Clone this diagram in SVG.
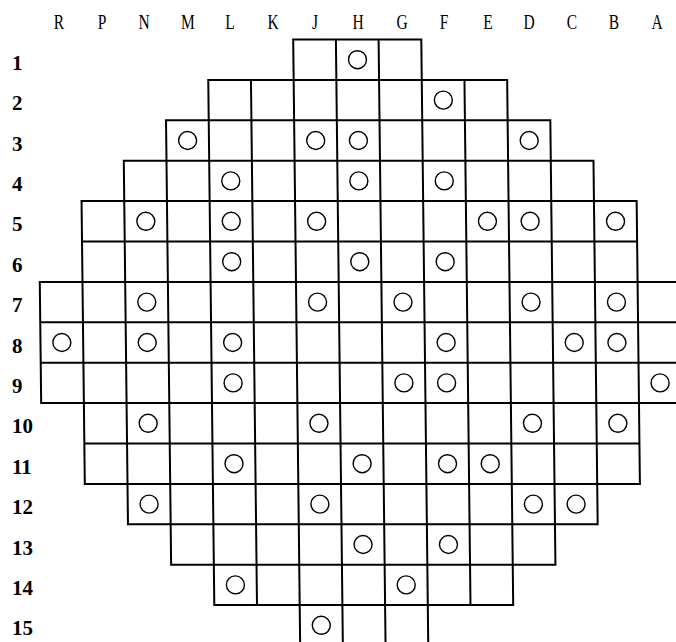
<svg xmlns="http://www.w3.org/2000/svg" width="676" height="642" viewBox="0 0 676 642">
<style>
.grid{fill:none;stroke:#000;stroke-width:2;stroke-linecap:square}
.rod{fill:none;stroke:#000;stroke-width:1.4}
.col{font-family:"Liberation Serif","Times New Roman",serif;font-size:21px;fill:#000;text-anchor:middle}
.row{font-family:"Liberation Serif","Times New Roman",serif;font-size:21px;font-weight:bold;fill:#000}
</style>
<rect width="676" height="642" fill="#fff"/>
<g id="column-labels" class="col">
<text transform="translate(59,29) scale(0.74,1)">R</text>
<text transform="translate(102,29) scale(0.74,1)">P</text>
<text transform="translate(144,29) scale(0.74,1)">N</text>
<text transform="translate(188,29) scale(0.74,1)">M</text>
<text transform="translate(230,29) scale(0.74,1)">L</text>
<text transform="translate(273,29) scale(0.74,1)">K</text>
<text transform="translate(315,29) scale(0.74,1)">J</text>
<text transform="translate(358,29) scale(0.74,1)">H</text>
<text transform="translate(402,29) scale(0.74,1)">G</text>
<text transform="translate(444,29) scale(0.74,1)">F</text>
<text transform="translate(488,29) scale(0.74,1)">E</text>
<text transform="translate(529,29) scale(0.74,1)">D</text>
<text transform="translate(572,29) scale(0.74,1)">C</text>
<text transform="translate(614,29) scale(0.74,1)">B</text>
<text transform="translate(657,29) scale(0.74,1)">A</text>
</g>
<g id="row-labels" class="row">
<text x="12" y="69.7">1</text>
<text x="12" y="110.1">2</text>
<text x="12" y="150.5">3</text>
<text x="12" y="190.9">4</text>
<text x="12" y="231.3">5</text>
<text x="12" y="271.7">6</text>
<text x="12" y="312.1">7</text>
<text x="12" y="352.5">8</text>
<text x="12" y="392.9">9</text>
<text x="12" y="433.3">10</text>
<text x="12" y="473.7">11</text>
<text x="12" y="514.1">12</text>
<text x="12" y="554.5">13</text>
<text x="12" y="594.9">14</text>
<text x="12" y="635.3">15</text>
</g>
<g id="core" transform="matrix(1,0,0.0115,1,-0.46,0)">
<path id="grid" class="grid" d="
M293.2,39.5H421.3
M207.8,79.9H506.7
M165.1,120.3H549.4
M122.4,160.7H592.1
M79.7,201.1H634.8
M79.7,241.5H634.8
M37,281.9H677.5
M37,322.3H677.5
M37,362.7H677.5
M37,403.1H677.5
M79.7,443.5H634.8
M79.7,483.9H634.8
M122.4,524.3H592.1
M165.1,564.7H549.4
M207.8,605.1H506.7
M37,281.9V403.1
M79.7,201.1V483.9
M122.4,160.7V524.3
M165.1,120.3V564.7
M207.8,79.9V605.1
M250.5,79.9V605.1
M293.2,39.5V650
M335.9,39.5V650
M378.6,39.5V650
M421.3,39.5V650
M464,79.9V605.1
M506.7,79.9V605.1
M549.4,120.3V564.7
M592.1,160.7V524.3
M634.8,201.1V483.9
"/>
<g id="rods" class="rod">
<circle cx="357.25" cy="59.7" r="9"/>
<circle cx="442.65" cy="100.1" r="9"/>
<circle cx="186.45" cy="140.5" r="9"/>
<circle cx="314.55" cy="140.5" r="9"/>
<circle cx="357.25" cy="140.5" r="9"/>
<circle cx="528.05" cy="140.5" r="9"/>
<circle cx="229.15" cy="180.9" r="9"/>
<circle cx="357.25" cy="180.9" r="9"/>
<circle cx="442.65" cy="180.9" r="9"/>
<circle cx="143.75" cy="221.3" r="9"/>
<circle cx="229.15" cy="221.3" r="9"/>
<circle cx="314.55" cy="221.3" r="9"/>
<circle cx="485.35" cy="221.3" r="9"/>
<circle cx="528.05" cy="221.3" r="9"/>
<circle cx="613.45" cy="221.3" r="9"/>
<circle cx="229.15" cy="261.7" r="9"/>
<circle cx="357.25" cy="261.7" r="9"/>
<circle cx="442.65" cy="261.7" r="9"/>
<circle cx="143.75" cy="302.1" r="9"/>
<circle cx="314.55" cy="302.1" r="9"/>
<circle cx="399.95" cy="302.1" r="9"/>
<circle cx="528.05" cy="302.1" r="9"/>
<circle cx="613.45" cy="302.1" r="9"/>
<circle cx="58.35" cy="342.5" r="9"/>
<circle cx="143.75" cy="342.5" r="9"/>
<circle cx="229.15" cy="342.5" r="9"/>
<circle cx="442.65" cy="342.5" r="9"/>
<circle cx="570.75" cy="342.5" r="9"/>
<circle cx="613.45" cy="342.5" r="9"/>
<circle cx="229.15" cy="382.9" r="9"/>
<circle cx="399.95" cy="382.9" r="9"/>
<circle cx="442.65" cy="382.9" r="9"/>
<circle cx="656.15" cy="382.9" r="9"/>
<circle cx="143.75" cy="423.3" r="9"/>
<circle cx="314.55" cy="423.3" r="9"/>
<circle cx="528.05" cy="423.3" r="9"/>
<circle cx="613.45" cy="423.3" r="9"/>
<circle cx="229.15" cy="463.7" r="9"/>
<circle cx="357.25" cy="463.7" r="9"/>
<circle cx="442.65" cy="463.7" r="9"/>
<circle cx="485.35" cy="463.7" r="9"/>
<circle cx="143.75" cy="504.1" r="9"/>
<circle cx="314.55" cy="504.1" r="9"/>
<circle cx="528.05" cy="504.1" r="9"/>
<circle cx="570.75" cy="504.1" r="9"/>
<circle cx="357.25" cy="544.5" r="9"/>
<circle cx="442.65" cy="544.5" r="9"/>
<circle cx="229.15" cy="584.9" r="9"/>
<circle cx="399.95" cy="584.9" r="9"/>
<circle cx="314.55" cy="625.3" r="9"/>
</g>
</g>
</svg>
